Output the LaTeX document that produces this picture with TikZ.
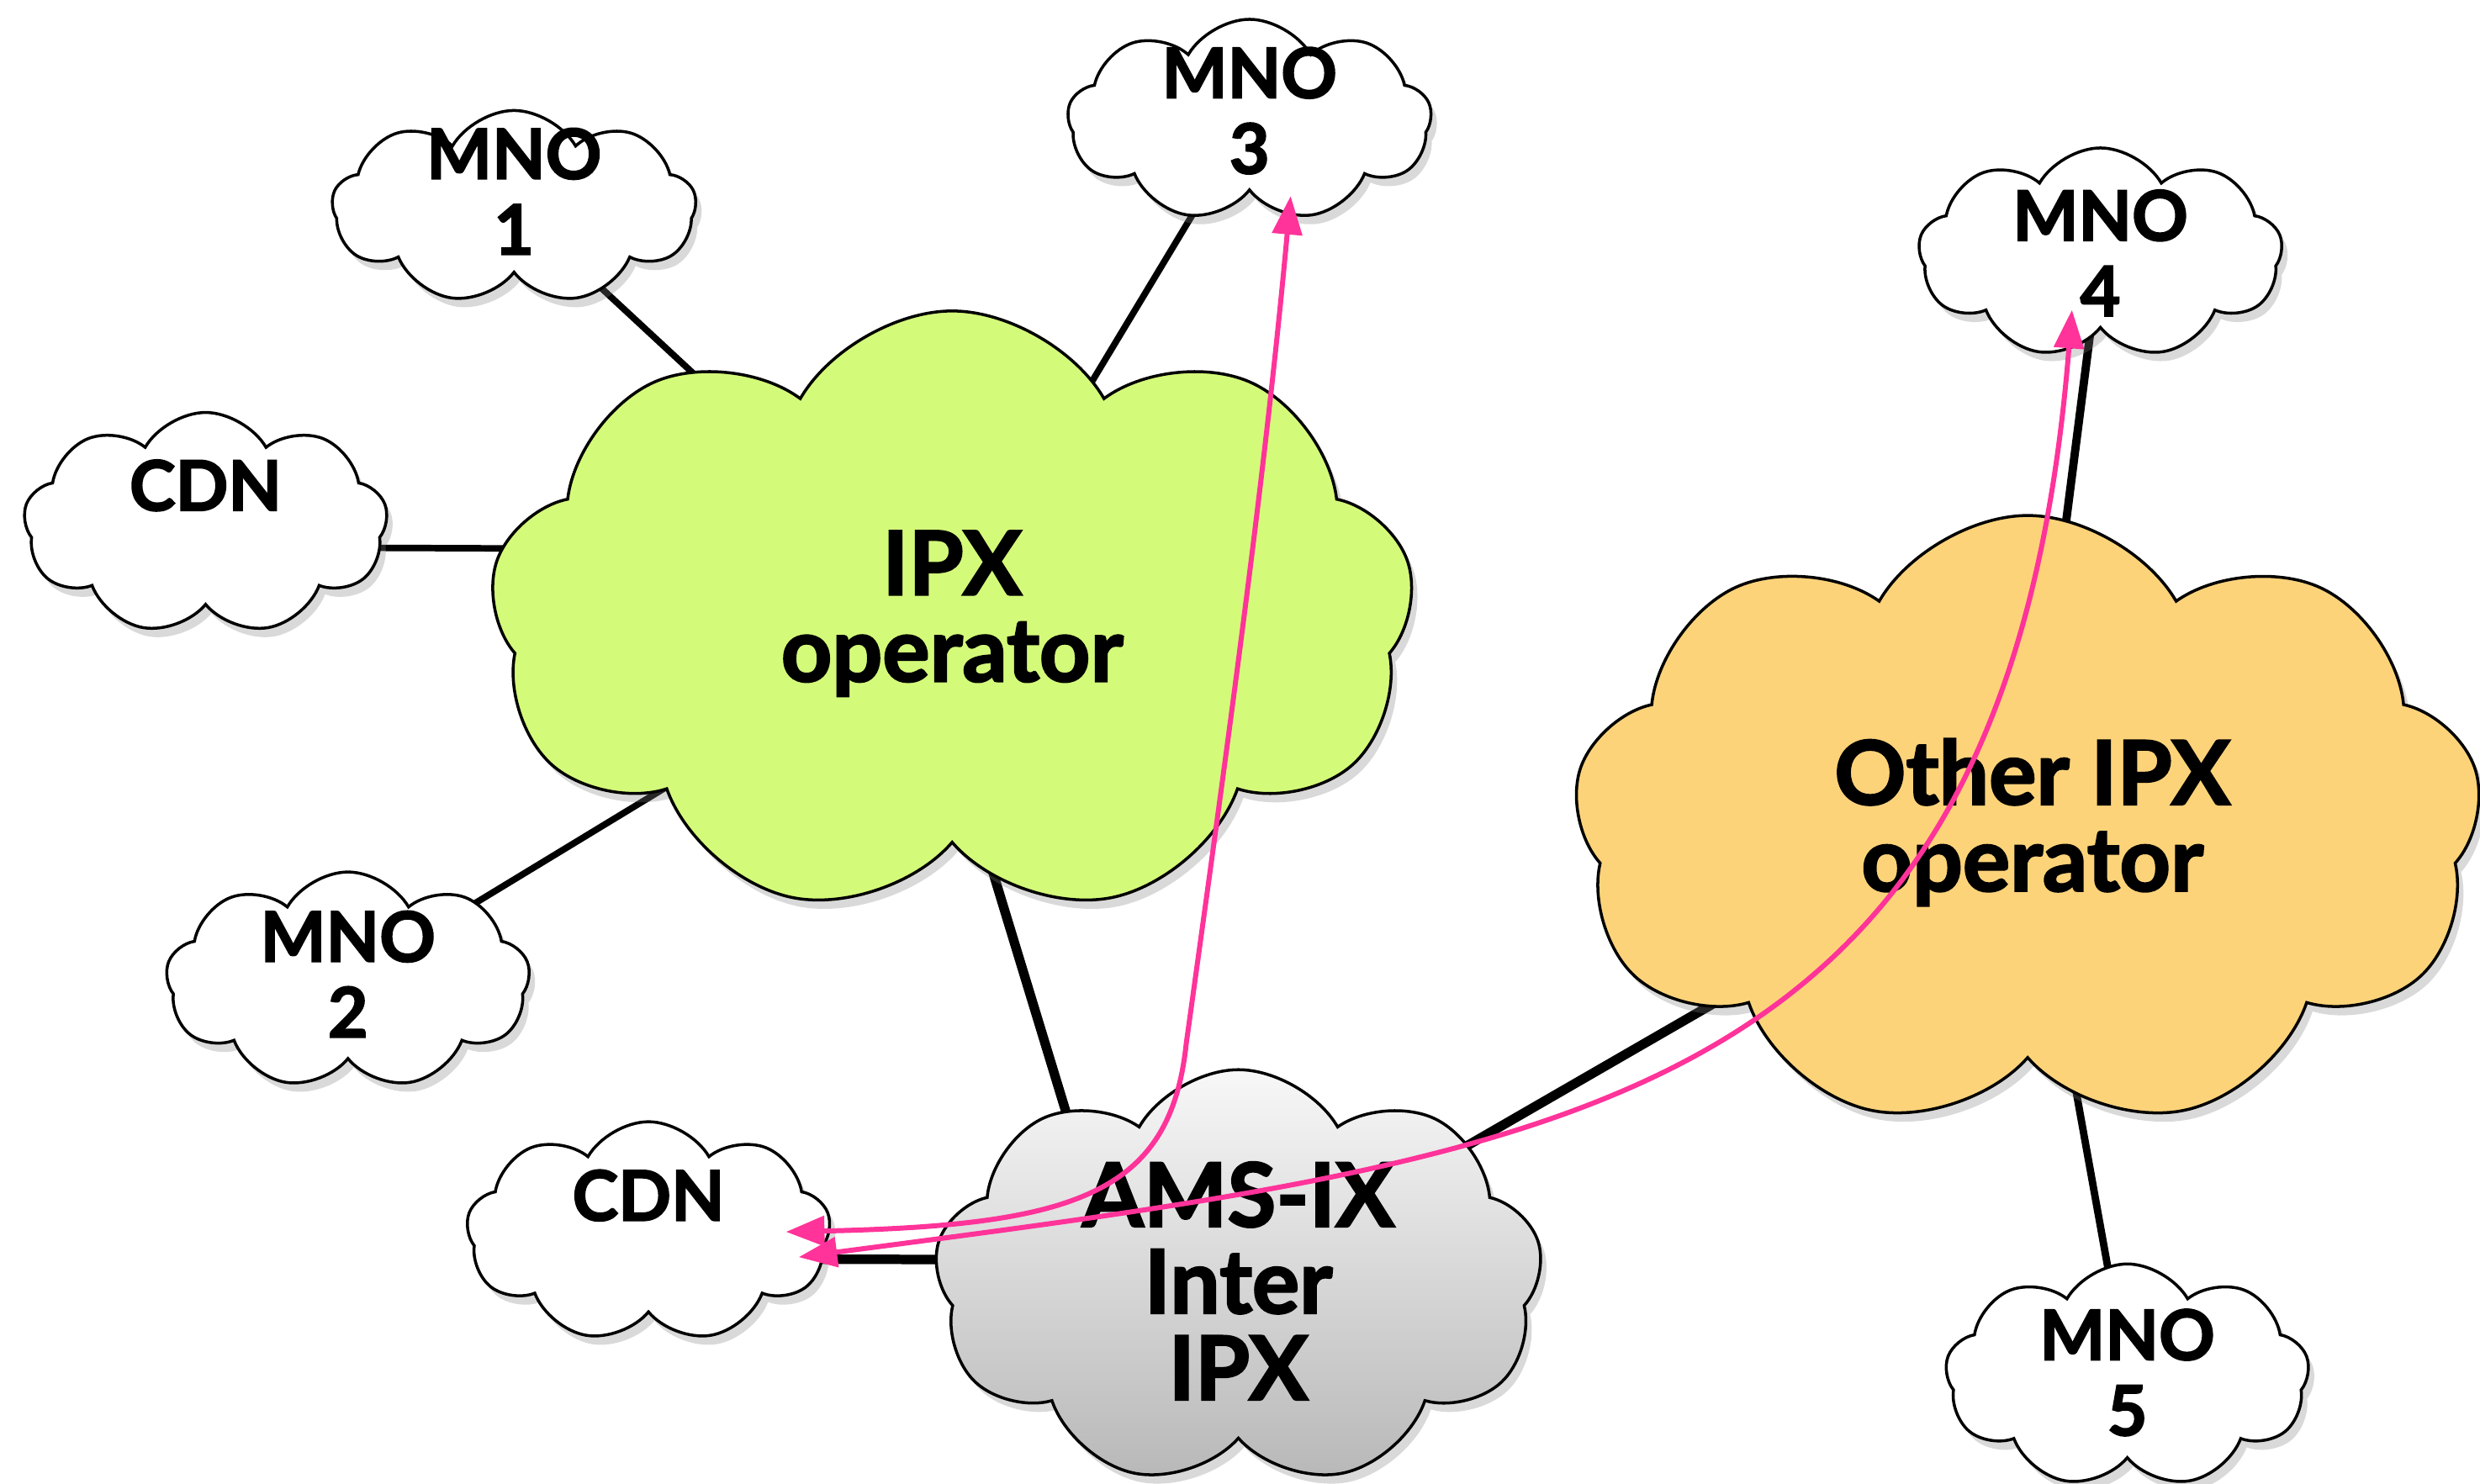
\documentclass[tikz,border=0pt]{standalone}
\usepackage{fontspec}
\setmainfont{Lato}[BoldFeatures={FakeBold=2.2}]
\usetikzlibrary{shapes.symbols,shadows,backgrounds,calc,arrows.meta}
\definecolor{ipxgreen}{RGB}{212,250,122}
\definecolor{ipxorange}{RGB}{253,211,122}
\definecolor{arrowpink}{RGB}{255,51,153}
\begin{document}
\begin{tikzpicture}[x=0.018807cm,y=-0.018807cm,
  cloudbase/.style={cloud, cloud puffs=9, cloud puff arc=120, cloud ignores aspect,
    draw=black, line width=1pt, inner sep=0pt,
    drop shadow={shadow xshift=2pt,shadow yshift=-3pt,opacity=0.3}},
  smallcloud/.style={cloudbase, fill=white, minimum width=4.33cm},
  bigcloud/.style={cloudbase},
  smalltext/.style={font=\fontsize{23.5}{25.6}\selectfont\bfseries, align=center, inner sep=0pt},
  bigtext/.style={font=\fontsize{30}{29.3}\selectfont\bfseries, align=center, inner sep=0pt},
  thinlink/.style={line width=2.2pt},
  thicklink/.style={line width=3.2pt},
  pinkarrow/.style={draw=arrowpink, line width=1.7pt,
    arrows={Triangle[length=13pt,width=10pt]-Triangle[length=13pt,width=10pt]}}
]
\useasboundingbox (0,0) rectangle (1568,938);

% clouds
\node[smallcloud, minimum height=2.3cm] (mno1) at (325,131) {};
\node[smallcloud, minimum height=2.4cm] (mno3) at (790,76) {};
\node[smallcloud, minimum height=2.5cm] (mno4) at (1328,160) {};
\node[smallcloud, minimum height=2.64cm] (cdn1) at (130,331) {};
\node[smallcloud, minimum height=2.58cm] (mno2) at (220,620) {};
\node[smallcloud, minimum height=2.62cm] (cdn2) at (410,779) {};
\node[smallcloud, minimum height=2.66cm] (mno5) at (1345,870) {};
\node[bigcloud, fill=ipxgreen, minimum width=11.0cm, minimum height=7.2cm] (ipx) at (602,388) {};
\node[bigcloud, fill=ipxorange, minimum width=10.81cm, minimum height=7.3cm] (other) at (1282,520) {};
\node[bigcloud, top color=black!3, bottom color=black!28, minimum width=7.24cm, minimum height=4.95cm] (ams) at (783,808) {};

% connectors
\begin{scope}[on background layer]
  \draw[thinlink] (mno1.center) -- (ipx.center);
  \draw[thinlink] (mno3.center) -- (ipx.center);
  \draw[thinlink] ($(cdn1.center)+(0,15)$) -- ($(ipx.center)+(0,-40)$);
  \draw[thinlink] (mno2.center) -- (ipx.center);
  \draw[thicklink] ($(ipx.center)+(-24,0)$) -- ($(ams.center)+(-75,7)$);
  \draw[thicklink] ($(cdn2.center)+(0,17)$) -- ($(ams.center)+(0,-11)$);
  \draw[thicklink] (ams.center) -- (other.center);
  \draw[line width=2.8pt] (mno4.center) -- (other.center);
  \draw[line width=2.5pt] (other.center) -- (mno5.center);
\end{scope}

% texts
\node[smalltext] (t1) at (325,121) {MNO\\1};
\node[smalltext] (t3) at (790,70) {MNO\\3};
\node[smalltext] (t4) at (1328,160) {MNO\\4};
\node[smalltext] (tc1) at (130,307) {CDN};
\node[smalltext] (t2) at (220,616) {MNO\\2};
\node[smalltext] (tc2) at (410,756) {CDN};
\node[smalltext] (t5) at (1345,868) {MNO\\5};
\node[bigtext] (tipx) at (602,388) {IPX\\operator};
\node[bigtext] (tother) at (1285,520) {Other IPX\\operator};
\node[bigtext] (tams) at (783,810) {AMS-IX\\Inter\\IPX};

% pink arrows
\coordinate (a1) at ($(cdn2.center)+(87,0)$);
\coordinate (a2) at ($(mno3.center)+(26,48)$);
\coordinate (b1) at ($(cdn2.center)+(95,16)$);
\coordinate (b2) at ($(mno4.center)+(-18,36)$);
\draw[pinkarrow] (a1) .. controls (680,775) and (740,755) .. (750,660)
  .. controls (775,480) and (800,300) .. (a2);
\draw[pinkarrow] (b1) .. controls (1000,730) and (1270,700) .. (b2);
\end{tikzpicture}
\end{document}
